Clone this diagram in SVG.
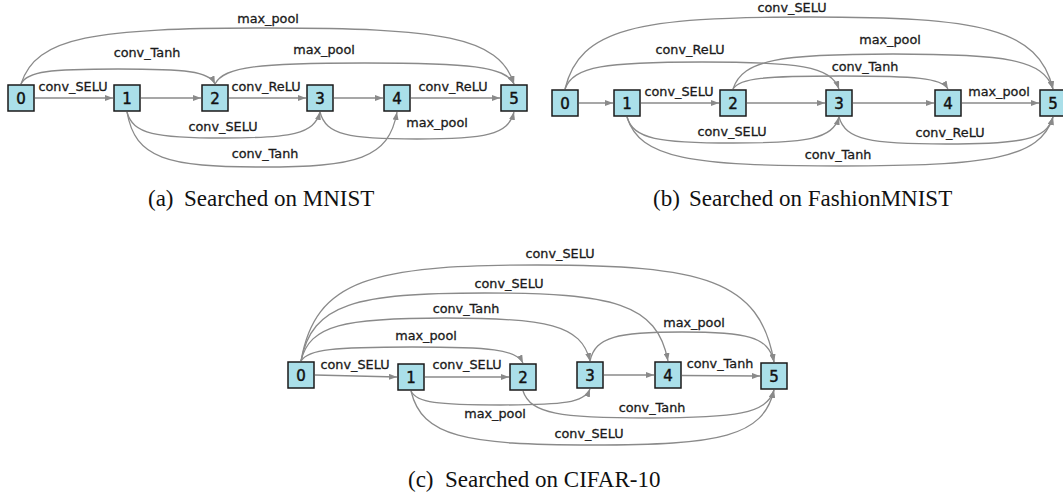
<svg xmlns="http://www.w3.org/2000/svg" width="1063" height="495" viewBox="0 0 1063 495">
<style>
.n rect{fill:#aadfe9;stroke:#1a1a1a;stroke-width:1.5}
.n text{font-family:"DejaVu Sans",sans-serif;font-size:15px;fill:#111;stroke:#111;stroke-width:0.45;text-anchor:middle}
.e path{fill:none;stroke:#8a8a8a;stroke-width:1.3;marker-end:url(#ah)}
.l{font-family:"DejaVu Sans",sans-serif;font-size:12.8px;fill:#1a1a1a;stroke:#1a1a1a;stroke-width:0.3;text-anchor:middle}
.cap{font-family:"Liberation Serif",serif;font-size:23px;fill:#111}
</style>
<defs>
<marker id="ah" markerUnits="userSpaceOnUse" markerWidth="8" markerHeight="6" refX="8" refY="3" orient="auto">
<path d="M0,0 L8,3 L0,6 z" fill="#8a8a8a"/>
</marker>
</defs>
<rect width="1063" height="495" fill="#fff"/>
<g id="connectors" class="e">
<!-- (a) -->
<path d="M21,84 C35.8,36.4 95,28 267.5,28 S499.2,36.4 514,84"/>
<path d="M21,84 C26.8,71.3 50.1,69 118,69 S209.2,71.3 215,84"/>
<path d="M215,84 C224,66.2 259.9,63 364.5,63 S505,66.2 514,84"/>
<path d="M127,112 C132.8,134.1 156,138 223.5,138 S314.2,134.1 320,112"/>
<path d="M127,112 C135.1,158.75 167.5,167 262,167 S388.9,158.75 397,112"/>
<path d="M320,112 C325.8,134.95 349.1,139 417,139 S508.2,134.95 514,112"/>
<path d="M35,98 L113,98"/>
<path d="M141,98 L201,98"/>
<path d="M229,98 L306,98"/>
<path d="M334,98 L383,98"/>
<path d="M411,98 L500,98"/>
<!-- (b) -->
<path d="M565,89 C579.6,27.8 638.2,17 809,17 S1038.4,27.8 1053,89"/>
<path d="M565,89 C573.2,66.05 606.1,62 702,62 S830.8,66.05 839,89"/>
<path d="M733,89 C742.6,59.25 781,54 893,54 S1043.4,59.25 1053,89"/>
<path d="M733,89 C739.45,77.95 765.25,76 840.5,76 S941.55,77.95 948,89"/>
<path d="M627,117 C633.4,139.1 658.8,143 733,143 S832.6,139.1 839,117"/>
<path d="M839,117 C845.4,139.95 871.1,144 946,144 S1046.6,139.95 1053,117"/>
<path d="M627,117 C639.8,158.65 690.9,166 840,166 S1040.2,158.65 1053,117"/>
<path d="M579,103 L613,103"/>
<path d="M641,103 L719,103"/>
<path d="M747,103 L825,103"/>
<path d="M853,103 L934,103"/>
<path d="M962,103 L1039,103"/>
<!-- (c) -->
<path d="M301,361 C315.2,279.4 372,265 537.5,265 S759.8,279.4 774,362"/>
<path d="M301,361 C312,303.2 356.05,293 484.5,293 S657,303.2 668,361"/>
<path d="M301,361 C309.7,324.45 344.35,318 445.5,318 S581.3,324.45 590,361"/>
<path d="M301,361 C307.7,349.1 334.3,347 412,347 S516.3,349.1 523,363"/>
<path d="M590,361 C595.5,336.35 617.6,332 682,332 S768.5,336.35 774,362"/>
<path d="M411,391 C416.4,402.9 437.85,405 500.5,405 S584.6,402.9 590,389"/>
<path d="M523,391 C530.5,413.95 560.65,418 648.5,418 S766.5,413.95 774,390"/>
<path d="M411,391 C421.9,436.9 465.45,445 592.5,445 S763.1,436.9 774,390"/>
<path d="M315,375 L397,377"/>
<path d="M425,377 L509,377"/>
<path d="M604,375 L654,375"/>
<path d="M682,375.5 L760,376"/>
</g>
<g id="labels">
<text class="l" x="268" y="23">max_pool</text>
<text class="l" x="147" y="57">conv_Tanh</text>
<text class="l" x="324" y="54">max_pool</text>
<text class="l" x="73" y="91">conv_SELU</text>
<text class="l" x="266" y="91">conv_ReLU</text>
<text class="l" x="453" y="91">conv_ReLU</text>
<text class="l" x="223" y="131">conv_SELU</text>
<text class="l" x="265" y="158">conv_Tanh</text>
<text class="l" x="437" y="127">max_pool</text>
<text class="l" x="792" y="12">conv_SELU</text>
<text class="l" x="690" y="54">conv_ReLU</text>
<text class="l" x="890" y="44">max_pool</text>
<text class="l" x="865" y="71">conv_Tanh</text>
<text class="l" x="679" y="96">conv_SELU</text>
<text class="l" x="999" y="96">max_pool</text>
<text class="l" x="732" y="136">conv_SELU</text>
<text class="l" x="950" y="137">conv_ReLU</text>
<text class="l" x="838" y="159">conv_Tanh</text>
<text class="l" x="560" y="258">conv_SELU</text>
<text class="l" x="509" y="288">conv_SELU</text>
<text class="l" x="466" y="313">conv_Tanh</text>
<text class="l" x="426" y="340">max_pool</text>
<text class="l" x="694" y="327">max_pool</text>
<text class="l" x="355" y="369">conv_SELU</text>
<text class="l" x="467" y="369">conv_SELU</text>
<text class="l" x="720" y="368">conv_Tanh</text>
<text class="l" x="495" y="418">max_pool</text>
<text class="l" x="652" y="412">conv_Tanh</text>
<text class="l" x="589" y="438">conv_SELU</text>
</g>
<g id="a-nodes">
<g id="a0" class="n"><rect x="8" y="85" width="26" height="26"/><text x="21" y="104">0</text></g>
<g id="a1" class="n"><rect x="114" y="85" width="26" height="26"/><text x="127" y="104">1</text></g>
<g id="a2" class="n"><rect x="202" y="85" width="26" height="26"/><text x="215" y="104">2</text></g>
<g id="a3" class="n"><rect x="307" y="85" width="26" height="26"/><text x="320" y="104">3</text></g>
<g id="a4" class="n"><rect x="384" y="85" width="26" height="26"/><text x="397" y="104">4</text></g>
<g id="a5" class="n"><rect x="501" y="85" width="26" height="26"/><text x="514" y="104">5</text></g>
</g>
<g id="b-nodes">
<g id="b0" class="n"><rect x="552" y="90" width="26" height="26"/><text x="565" y="109">0</text></g>
<g id="b1" class="n"><rect x="614" y="90" width="26" height="26"/><text x="627" y="109">1</text></g>
<g id="b2" class="n"><rect x="720" y="90" width="26" height="26"/><text x="733" y="109">2</text></g>
<g id="b3" class="n"><rect x="826" y="90" width="26" height="26"/><text x="839" y="109">3</text></g>
<g id="b4" class="n"><rect x="935" y="90" width="26" height="26"/><text x="948" y="109">4</text></g>
<g id="b5" class="n"><rect x="1040" y="90" width="26" height="26"/><text x="1053" y="109">5</text></g>
</g>
<g id="c-nodes">
<g id="c0" class="n"><rect x="288" y="362" width="26" height="26"/><text x="301" y="381">0</text></g>
<g id="c1" class="n"><rect x="398" y="364" width="26" height="26"/><text x="411" y="383">1</text></g>
<g id="c2" class="n"><rect x="510" y="364" width="26" height="26"/><text x="523" y="383">2</text></g>
<g id="c3" class="n"><rect x="577" y="362" width="26" height="26"/><text x="590" y="381">3</text></g>
<g id="c4" class="n"><rect x="655" y="362" width="26" height="26"/><text x="668" y="381">4</text></g>
<g id="c5" class="n"><rect x="761" y="363" width="26" height="26"/><text x="774" y="382">5</text></g>
</g>
<g id="captions">
<text class="cap" x="148" y="206">(a)</text><text class="cap" x="184" y="206">Searched on MNIST</text>
<text class="cap" x="653" y="206">(b)</text><text class="cap" x="689" y="206">Searched on FashionMNIST</text>
<text class="cap" x="408" y="487">(c)</text><text class="cap" x="445" y="487">Searched on CIFAR-10</text>
</g>
</svg>
